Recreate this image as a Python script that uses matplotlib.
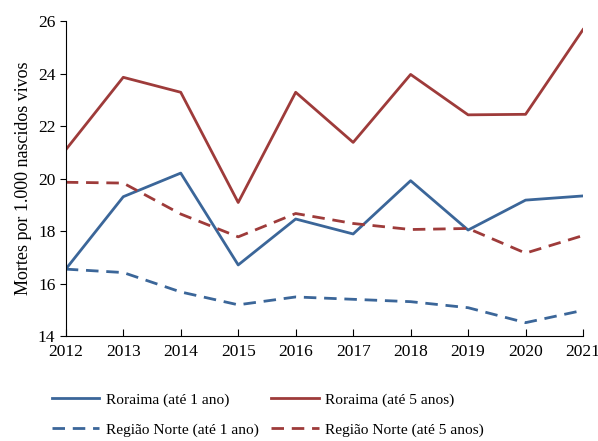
import matplotlib.pyplot as plt

plt.rcParams['font.family'] = ['Liberation Serif', 'DejaVu Serif']

years = [2012, 2013, 2014, 2015, 2016, 2017, 2018, 2019, 2020, 2021]
rr_1ano = [16.55, 19.31, 20.21, 16.71, 18.46, 17.89, 19.92, 18.04, 19.18, 19.34]
rr_5anos = [21.10, 23.86, 23.29, 19.09, 23.29, 21.38, 23.97, 22.43, 22.45, 25.68]
rn_1ano = [16.55, 16.42, 15.68, 15.19, 15.49, 15.40, 15.31, 15.08, 14.51, 14.98]
rn_5anos = [19.86, 19.83, 18.65, 17.78, 18.67, 18.29, 18.06, 18.10, 17.16, 17.83]

BLUE = '#3b6699'
RED = '#9e3b3a'

fig = plt.figure(figsize=(5.98, 4.41), dpi=100)
ax = fig.add_axes([0.110, 0.238, 0.865, 0.714])

lw = 2.0
dash = (0, (4.5, 2.8))
l1, = ax.plot(years, rr_1ano, color=BLUE, lw=lw, label='Roraima (até 1 ano)')
l2, = ax.plot(years, rr_5anos, color=RED, lw=lw, label='Roraima (até 5 anos)')
l3, = ax.plot(years, rn_1ano, color=BLUE, lw=lw, ls=dash, label='Região Norte (até 1 ano)')
l4, = ax.plot(years, rn_5anos, color=RED, lw=lw, ls=dash, label='Região Norte (até 5 anos)')

ax.set_xlim(2012, 2021)
ax.set_ylim(14, 26)
ax.set_xticks(years)
ax.set_yticks(range(14, 27, 2))
ax.tick_params(axis='x', direction='in', length=5, labelsize=12.5, pad=6)
ax.tick_params(axis='y', direction='out', length=4, labelsize=12.5)
for s in ['top', 'right']:
    ax.spines[s].set_visible(False)
ax.set_ylabel('Mortes por 1.000 nascidos vivos', fontsize=13)

# row-major order like the original: column-major fill in matplotlib
fig.legend([l1, l3, l2, l4], [l.get_label() for l in (l1, l3, l2, l4)],
           loc='lower left', bbox_to_anchor=(0.063, -0.022), ncol=2, frameon=False,
           fontsize=11.1, handlelength=3.1, handletextpad=0.4,
           columnspacing=0.8, labelspacing=1.05)

fig.savefig('out.png', dpi=100)
